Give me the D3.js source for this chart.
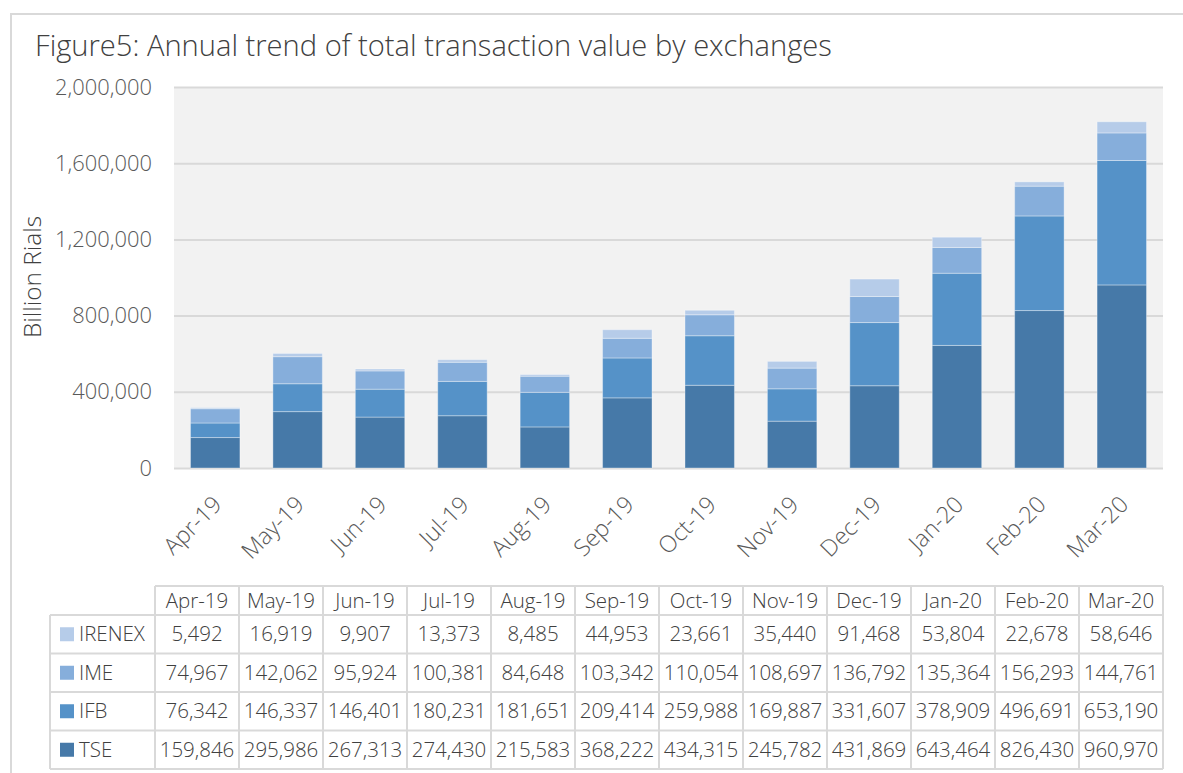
<!DOCTYPE html>
<html><head><meta charset="utf-8">
<script src="https://cdn.jsdelivr.net/npm/d3@7"></script>
<style>
body{margin:0;background:#fff;}
svg{display:block;}
text{font-family:"Open Sans","Lato",sans-serif;}
</style></head>
<body><svg id="c" width="1183" height="773"></svg>
<script>
const categories = ["Apr-19","May-19","Jun-19","Jul-19","Aug-19","Sep-19","Oct-19","Nov-19","Dec-19","Jan-20","Feb-20","Mar-20"];
const seriesNames = ["TSE","IFB","IME","IRENEX"];
const TSE = [159846,295986,267313,274430,215583,368222,434315,245782,431869,643464,826430,960970];
const IFB = [76342,146337,146401,180231,181651,209414,259988,169887,331607,378909,496691,653190];
const IME = [74967,142062,95924,100381,84648,103342,110054,108697,136792,135364,156293,144761];
const IRENEX = [5492,16919,9907,13373,8485,44953,23661,35440,91468,53804,22678,58646];
const yTicks = [0,400000,800000,1200000,1600000,2000000];
const colors = {TSE:"#4679a8", IFB:"#5592c8", IME:"#86aedb", IRENEX:"#b6cce9"};
const seriesData = {TSE, IFB, IME, IRENEX};

const svg = d3.select("#c");
function fit(sel, base, target){
  const w = sel.node().getComputedTextLength();
  const s = base*target/w;
  sel.attr("font-size", s);
  return s;
}
svg.append("rect").attr("x",11).attr("y",14).attr("width",1200).attr("height",800)
  .attr("fill","none").attr("stroke","#d9d9d9").attr("stroke-width",2);

const title = svg.append("text").attr("x",35).attr("y",56).attr("font-size",26).attr("font-weight",300)
  .attr("fill","#404040").text("Figure5: Annual trend of total transaction value by exchanges");
fit(title, 26, 797);

const L=174, R=1163, T=87, B=468;
const x = d3.scaleBand().domain(categories).range([L,R]).paddingInner(0.4).paddingOuter(0.2);
const y = d3.scaleLinear().domain([0,2000000]).range([B,T]);

svg.append("rect").attr("x",L).attr("y",T).attr("width",R-L).attr("height",B-T).attr("fill","#f2f2f2");

const yAxis = d3.axisLeft(y).tickValues(yTicks).tickSize(-(R-L)).tickFormat(d3.format(","));
const gy = svg.append("g").attr("transform",`translate(${L},0)`).call(yAxis);
gy.select(".domain").remove();
gy.selectAll(".tick line").attr("stroke","#d9d9d9").attr("stroke-width",2);
gy.selectAll(".tick text").attr("x",-22).attr("font-size",19).attr("fill","#595959").attr("font-weight",300);
const topTick = gy.selectAll(".tick text").filter(d=>d===2000000);
const tickSize = fit(topTick, 19, 97);
gy.selectAll(".tick text").attr("font-size", tickSize);

const yt = svg.append("text").attr("transform","translate(41,277) rotate(-90)").attr("text-anchor","middle")
  .attr("font-size",20).attr("font-weight",300).attr("fill","#404040").text("Billion Rials");
fit(yt, 20, 122);

const rows = categories.map((c,i)=>{const o={cat:c}; seriesNames.forEach(s=>o[s]=seriesData[s][i]); return o;});
const stack = d3.stack().keys(seriesNames)(rows);
svg.append("g").selectAll("g").data(stack).join("g").attr("fill",d=>colors[d.key])
  .selectAll("rect").data(d=>d).join("rect")
  .attr("x",d=>x(d.data.cat)).attr("width",x.bandwidth())
  .attr("y",d=>y(d[1])).attr("height",d=>y(d[0])-y(d[1]))
  .attr("stroke","rgba(255,255,255,0.35)").attr("stroke-width",1);

const xAxis = d3.axisBottom(x).tickSize(0);
const gx = svg.append("g").attr("transform",`translate(0,${B})`).call(xAxis);
gx.select(".domain").remove();
gx.selectAll(".tick text").attr("font-size",tickSize*1.06).attr("font-weight",300).attr("fill","#595959")
  .attr("text-anchor","end").attr("dy",0).attr("y",0)
  .attr("transform","translate(8,38) rotate(-45)");

const tL=155, tR=1163, labL=50;
const cw=(tR-tL)/categories.length;
const hTop=586, hBot=615, rowH=38.5;
const tableOrder = ["IRENEX","IME","IFB","TSE"];
const tg = svg.append("g");
const lineC="#d9d9d9";
const fs=20.5;
categories.forEach((c,i)=>{
  tg.append("text").attr("x",tL+cw*(i+0.5)).attr("y",(hTop+hBot)/2+7).attr("text-anchor","middle")
    .attr("font-size",fs).attr("font-weight",300).attr("fill","#404040").text(c);
});
const fmt=d3.format(",");
tableOrder.forEach((s,r)=>{
  const y0=hBot+r*rowH, yc=y0+rowH/2;
  tg.append("rect").attr("x",labL+10).attr("y",yc-7).attr("width",14).attr("height",14).attr("fill",colors[s]);
  tg.append("text").attr("x",labL+29).attr("y",yc+7).attr("font-size",fs).attr("font-weight",300)
    .attr("fill","#404040").text(s);
  seriesData[s].forEach((v,i)=>{
    tg.append("text").attr("x",tL+cw*(i+0.5)).attr("y",yc+7).attr("text-anchor","middle")
      .attr("font-size",fs).attr("font-weight",300).attr("fill","#404040").text(fmt(v));
  });
});
const tBot=hBot+rowH*4;
tg.append("line").attr("x1",tL).attr("x2",tR).attr("y1",hTop).attr("y2",hTop).attr("stroke",lineC).attr("stroke-width",2);
for(let r=0;r<=4;r++){
  tg.append("line").attr("x1",labL).attr("x2",tR).attr("y1",hBot+r*rowH).attr("y2",hBot+r*rowH).attr("stroke",lineC).attr("stroke-width",2);
}
tg.append("line").attr("x1",labL).attr("x2",labL).attr("y1",hBot).attr("y2",tBot).attr("stroke",lineC).attr("stroke-width",2);
for(let i=0;i<=categories.length;i++){
  tg.append("line").attr("x1",tL+cw*i).attr("x2",tL+cw*i).attr("y1",hTop).attr("y2",tBot).attr("stroke",lineC).attr("stroke-width",2);
}
</script></body></html>
